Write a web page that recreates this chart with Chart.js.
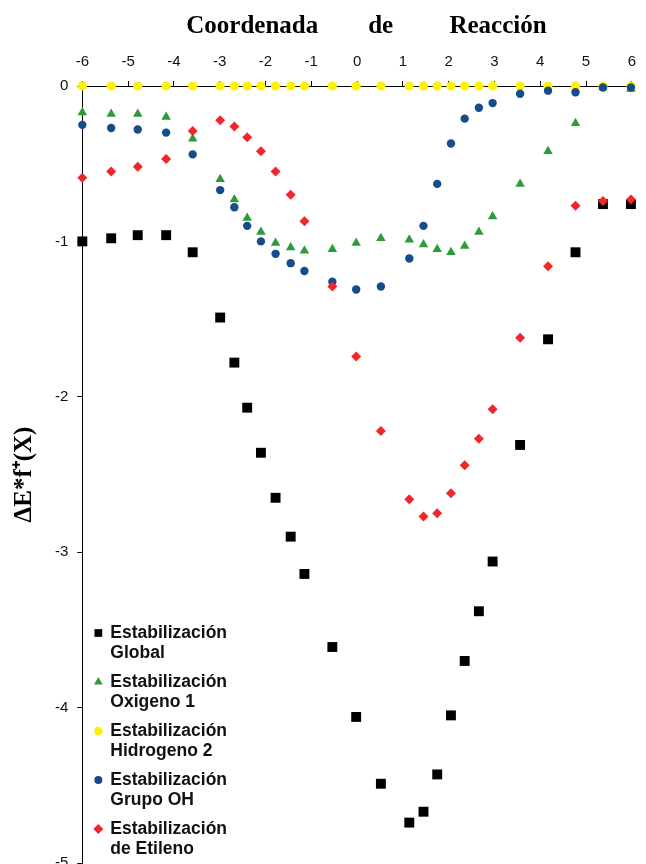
<!DOCTYPE html>
<html>
<head>
<meta charset="utf-8">
<title>Coordenada de Reacción</title>
<script src="https://cdn.jsdelivr.net/npm/chart.js@4.4.1/dist/chart.umd.min.js"></script>
<style>
  html, body { margin: 0; padding: 0; background: #fff; overflow: hidden; }
  #wrap { width: 646px; height: 864px; overflow: hidden; }
</style>
</head>
<body>
<div id="wrap"><canvas id="irc" width="646" height="870"></canvas></div>
<script>
// puntos de la coordenada de reacción (IRC)
var coordX = [-6, -5.37, -4.79, -4.17, -3.59, -2.99, -2.68, -2.4, -2.1, -1.78, -1.45, -1.15,
              -0.54, -0.02, 0.52, 1.14, 1.45, 1.75, 2.05, 2.35, 2.66, 2.96,
              3.56, 4.17, 4.77, 5.37, 5.98];

var estGlobal = [-1.00, -0.98, -0.96, -0.96, -1.07, -1.49, -1.78, -2.07, -2.36, -2.65, -2.90, -3.14,
                 -3.61, -4.06, -4.49, -4.74, -4.67, -4.43, -4.05, -3.70, -3.38, -3.06,
                 -2.31, -1.63, -1.07, -0.76, -0.76];
var estOxigeno1 = [-0.17, -0.18, -0.18, -0.20, -0.34, -0.60, -0.73, -0.85, -0.94, -1.01, -1.04, -1.06,
                   -1.05, -1.01, -0.98, -0.99, -1.02, -1.05, -1.07, -1.03, -0.94, -0.84,
                   -0.63, -0.42, -0.24, -0.01, -0.02];
var estHidrogeno2 = [0, 0, 0, 0, 0, 0, 0, 0, 0, 0, 0, 0,
                     0, 0, 0, 0, 0, 0, 0, 0, 0, 0,
                     0, 0, 0, 0, 0];
var estGrupoOH = [-0.25, -0.27, -0.28, -0.30, -0.44, -0.67, -0.78, -0.90, -1.00, -1.08, -1.14, -1.19,
                  -1.26, -1.31, -1.29, -1.11, -0.90, -0.63, -0.37, -0.21, -0.14, -0.11,
                  -0.05, -0.03, -0.04, -0.01, -0.01];
var estEtileno = [-0.59, -0.55, -0.52, -0.47, -0.29, -0.22, -0.26, -0.33, -0.42, -0.55, -0.70, -0.87,
                  -1.29, -1.74, -2.22, -2.66, -2.77, -2.75, -2.62, -2.44, -2.27, -2.08,
                  -1.62, -1.16, -0.77, -0.74, -0.73];

var seriesLabels = [
    ['Estabilización', 'Global'],
    ['Estabilización', 'Oxigeno 1'],
    ['Estabilización', 'Hidrogeno 2'],
    ['Estabilización', 'Grupo OH'],
    ['Estabilización', 'de Etileno']
];
var seriesValues = [estGlobal, estOxigeno1, estHidrogeno2, estGrupoOH, estEtileno];
var seriesColors = ['#000000', '#2E9B3A', '#FFF200', '#174C8A', '#F0262A'];
var seriesStyles = ['rect', 'triangle', 'circle', 'circle', 'rectRot'];
var seriesRadius = [7, 5.5, 4.6, 4.2, 5];
var legendRadius = [5.5, 5, 4.2, 4, 5];

var xTicks = [-6, -5, -4, -3, -2, -1, 0, 1, 2, 3, 4, 5, 6];
var yTicks = [0, -1, -2, -3, -4, -5];

var SANS = '"Liberation Sans", Arial, sans-serif';
var SERIF = '"Liberation Serif", "Times New Roman", serif';

function toPoints(values) {
    return values.map(function(v, i) { return { x: coordX[i], y: v }; });
}

// leyenda en dos líneas, dentro del área de trazado
var leyendaDosLineas = {
    id: 'leyendaDosLineas',
    afterDraw: function(chart, args, opts) {
        var ctx = chart.ctx;
        var area = chart.chartArea;
        var mx = area.left + opts.markerX;
        var tx = area.left + opts.textX;
        var y = area.bottom - opts.fromBottom;
        ctx.save();
        ctx.font = 'bold 17.5px ' + SANS;
        ctx.textBaseline = 'middle';
        ctx.textAlign = 'left';
        chart.data.datasets.forEach(function(ds, i) {
            ctx.fillStyle = ds.backgroundColor;
            Chart.helpers.drawPoint(ctx, {
                pointStyle: ds.pointStyle, rotation: 0,
                radius: legendRadius[i], borderWidth: 0
            }, mx, y);
            ctx.fillStyle = '#111';
            seriesLabels[i].forEach(function(line, k) {
                ctx.fillText(line, tx, y + k * opts.lineGap);
            });
            y += opts.entryGap;
        });
        ctx.restore();
    }
};

var datasets = seriesValues.map(function(vals, i) {
    return {
        label: seriesLabels[i].join(' '),
        data: toPoints(vals),
        pointStyle: seriesStyles[i],
        pointRadius: seriesRadius[i],
        pointHoverRadius: seriesRadius[i],
        backgroundColor: seriesColors[i],
        borderColor: seriesColors[i],
        borderWidth: 0,
        showLine: false,
        clip: false,
        order: seriesValues.length - i
    };
});

new Chart(document.getElementById('irc'), {
    type: 'scatter',
    data: { datasets: datasets },
    plugins: [leyendaDosLineas],
    options: {
        responsive: false,
        animation: false,
        devicePixelRatio: 1,
        layout: { padding: { top: 0, right: 8, bottom: -3, left: 0 } },
        plugins: {
            legend: { display: false },
            tooltip: { enabled: false },
            leyendaDosLineas: { markerX: 16, textX: 28, fromBottom: 230, lineGap: 20, entryGap: 49 }
        },
        scales: {
            x: {
                type: 'linear',
                position: 'top',
                min: -6, max: 6,
                afterBuildTicks: function(s) { s.ticks = xTicks.map(function(v) { return { value: v }; }); },
                ticks: { color: '#111', padding: 10, font: { family: SANS, size: 15 }, maxRotation: 0 },
                grid: { display: true, drawOnChartArea: false, color: '#000', tickLength: 5 },
                border: { display: true, color: '#000', width: 1 },
                title: {
                    display: true,
                    text: '   Coordenada        de         Reacción',
                    color: '#000',
                    font: { family: SERIF, size: 25, weight: 'bold' },
                    padding: { top: 12, bottom: 1 }
                }
            },
            y: {
                type: 'linear',
                min: -5, max: 0,
                afterBuildTicks: function(s) { s.ticks = yTicks.map(function(v) { return { value: v }; }); },
                // la última etiqueta (-5) puede quedar cortada abajo
                afterFit: function(s) { s.paddingBottom = 0; s.paddingTop = 0; },
                ticks: { color: '#111', padding: 9, font: { family: SANS, size: 15 } },
                grid: { display: true, drawOnChartArea: false, color: '#000', tickLength: 5 },
                border: { display: true, color: '#000', width: 1 },
                title: {
                    display: true,
                    text: 'ΔE*f⁺(X)',
                    color: '#000',
                    font: { family: SERIF, size: 25, weight: 'bold' },
                    padding: { top: 10, bottom: 6 }
                }
            }
        }
    }
});
</script>
</body>
</html>
